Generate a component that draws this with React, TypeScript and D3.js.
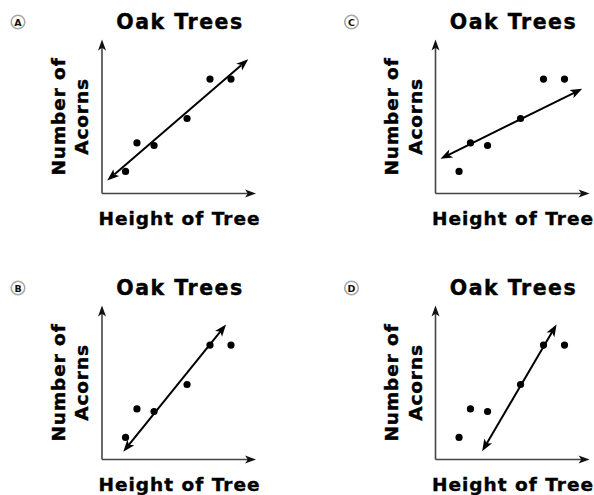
import React from "react";
import * as d3 from "d3";

// Shared scatter data (height of tree vs. number of acorns)
const heights = [1.57, 2.33, 3.47, 5.67, 7.2, 8.6];
const acorns = [1.47, 3.37, 3.2, 5.0, 7.63, 7.63];

// Panel options and their lines of fit: [x1, y1, x2, y2]
const panelLetters = ["A", "C", "B", "D"];
const fitLines: number[][] = [
  [0.35, 0.87, 9.75, 8.95],
  [0.33, 2.31, 9.78, 6.98],
  [1.42, 0.51, 8.27, 9.0],
  [3.11, 0.55, 8.07, 9.0],
];

const title = "Oak Trees";
const xLabel = "Height of Tree";
const yLabelLines = ["Number of", "Acorns"];

const W = 594;
const H = 495;
const AXIS_LEN = 150;
const AXIS_MAX = 10.27;
const FONT = "'DejaVu Sans', Verdana, sans-serif";

// Panel origins (where the axes meet)
const origins: [number, number][] = [
  [102, 193.5],
  [435.5, 193.5],
  [102, 459.5],
  [435.5, 459.5],
];

function arrowHead(tipX: number, tipY: number, fromX: number, fromY: number, len: number, half: number) {
  const dx = tipX - fromX;
  const dy = tipY - fromY;
  const d = Math.hypot(dx, dy);
  const ux = dx / d;
  const uy = dy / d;
  const bx = tipX - ux * len;
  const by = tipY - uy * len;
  const px = -uy;
  const py = ux;
  const notchX = tipX - ux * len * 0.75;
  const notchY = tipY - uy * len * 0.75;
  return `M${tipX},${tipY}L${bx + px * half},${by + py * half}L${notchX},${notchY}L${bx - px * half},${by - py * half}Z`;
}

const heavy = { stroke: "#000", strokeWidth: 0.4 };

function Panel({ index }: { index: number }) {
  const [ox, oy] = origins[index];
  const x = d3.scaleLinear().domain([0, 10]).range([0, AXIS_LEN]);
  const y = d3.scaleLinear().domain([0, 10]).range([0, -AXIS_LEN]);
  const [x1, y1, x2, y2] = fitLines[index];
  const lx1 = x(x1), ly1 = y(y1), lx2 = x(x2), ly2 = y(y2);
  const axEndX = x(AXIS_MAX);
  const axEndY = y(AXIS_MAX);
  const mid = x(AXIS_MAX) / 2;
  const midY = y(AXIS_MAX) / 2;
  return (
    <g transform={`translate(${ox},${oy})`}>
      {/* option badge */}
      <circle cx={-84} cy={-171.5} r={6.8} fill="#fff" stroke="#a8a8a8" strokeWidth={1.6} />
      <text x={-84} y={-168} textAnchor="middle" fontFamily={FONT} fontWeight="bold" fontSize={9.5} fill="#111">
        {panelLetters[index]}
      </text>
      {/* title */}
      <text x={mid + 1} y={-165} textAnchor="middle" fontFamily={FONT} fontWeight="bold" fontSize={20.5} letterSpacing={1.5} fill="#000" {...heavy}>
        {title}
      </text>
      {/* axes */}
      <line x1={0} y1={0} x2={axEndX - 6} y2={0} stroke="#444" strokeWidth={1.6} />
      <line x1={0} y1={0} x2={0} y2={axEndY + 6} stroke="#444" strokeWidth={1.6} />
      <path d={arrowHead(axEndX, 0, 0, 0, 11, 4)} fill="#111" />
      <path d={arrowHead(0, axEndY, 0, 0, 11, 4)} fill="#111" />
      {/* axis labels */}
      <text x={mid + 0.5} y={31.5} textAnchor="middle" fontFamily={FONT} fontWeight="bold" fontSize={18.5} letterSpacing={1} fill="#000" {...heavy}>
        {xLabel}
      </text>
      {yLabelLines.map((s, i) => (
        <text
          key={s}
          transform={`translate(${-37.5 + i * 23.5},${midY}) rotate(-90)`}
          textAnchor="middle"
          fontFamily={FONT}
          fontWeight="bold"
          fontSize={18.5}
          letterSpacing={0.9}
          fill="#000"
          {...heavy}
        >
          {s}
        </text>
      ))}
      {/* line of fit with arrows on both ends */}
      <line
        x1={lx1 + (lx2 - lx1) * 0.05}
        y1={ly1 + (ly2 - ly1) * 0.05}
        x2={lx2 - (lx2 - lx1) * 0.05}
        y2={ly2 - (ly2 - ly1) * 0.05}
        stroke="#000"
        strokeWidth={2}
      />
      <path d={arrowHead(lx1, ly1, lx2, ly2, 12, 4.5)} fill="#000" />
      <path d={arrowHead(lx2, ly2, lx1, ly1, 12, 4.5)} fill="#000" />
      {/* data points */}
      {heights.map((h, i) => (
        <circle key={i} cx={x(h)} cy={y(acorns[i])} r={3.6} fill="#000" />
      ))}
    </g>
  );
}

export default function App() {
  return (
    <svg
      width={W}
      height={H}
      viewBox={`0 0 ${W} ${H}`}
      style={{ position: "absolute", left: 0, top: 0, background: "#fff" }}
    >
      <rect width={W} height={H} fill="#fff" />
      {panelLetters.map((_, i) => (
        <Panel key={i} index={i} />
      ))}
    </svg>
  );
}
